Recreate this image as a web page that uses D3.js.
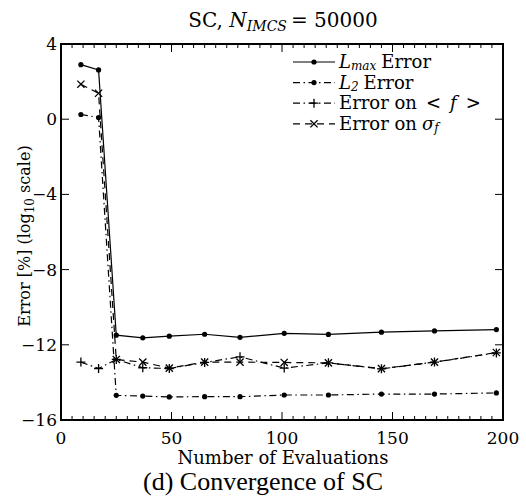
<!DOCTYPE html>
<html>
<head>
<meta charset="utf-8">
<script src="https://cdn.jsdelivr.net/npm/d3@7"></script>
<style>
  body { margin: 0; background: #fff; }
  svg text { font-family: "DejaVu Serif", serif; fill: #000; }
</style>
</head>
<body>
<svg id="chart" width="526" height="499"></svg>
<script>
// Number of model evaluations used by the sparse-grid collocation
const evaluations = [9, 17, 25, 37, 49, 65, 81, 101, 121, 145, 169, 197];

// log10 of the error (in %) for each measure
const lmaxError  = [2.90, 2.62, -11.49, -11.63, -11.54, -11.44, -11.60, -11.39, -11.45, -11.33, -11.26, -11.19];
const l2Error    = [0.25, 0.09, -14.69, -14.73, -14.77, -14.76, -14.76, -14.67, -14.67, -14.62, -14.62, -14.56];
const meanError  = [-12.92, -13.26, -12.78, -13.22, -13.26, -12.94, -12.64, -13.24, -12.96, -13.28, -12.92, -12.43];
const sigmaError = [1.86, 1.38, -12.78, -12.92, -13.24, -12.92, -12.92, -12.94, -12.96, -13.27, -12.92, -12.41];

const xTicks = [0, 50, 100, 150, 200];
const yTicks = [4, 0, -4, -8, -12, -16];

const series = [
  { name: "Lmax", values: lmaxError,  dash: null,            marker: "dot" },
  { name: "L2",   values: l2Error,    dash: "7,3.5,1.5,3.5", marker: "dot" },
  { name: "mean", values: meanError,  dash: "7,3.5,1.5,3.5", marker: "plus" },
  { name: "sigma",values: sigmaError, dash: "7,5",           marker: "cross" }
];

const svg = d3.select("#chart");
const plotLeft = 61, plotRight = 503, plotTop = 44, plotBottom = 420;

const x = d3.scaleLinear().domain([0, 200]).range([plotLeft, plotRight]);
const y = d3.scaleLinear().domain([-16, 4]).range([plotBottom, plotTop]);

// Tick marks point inwards on all four sides
const minorX = d3.range(0, 201, 5).filter(v => v % 50 !== 0);
const tickG = svg.append("g").attr("stroke", "#000").attr("stroke-width", 1);
minorX.forEach(v => {
  tickG.append("line").attr("x1", x(v)).attr("x2", x(v)).attr("y1", plotBottom).attr("y2", plotBottom - 4);
  tickG.append("line").attr("x1", x(v)).attr("x2", x(v)).attr("y1", plotTop).attr("y2", plotTop + 4);
});
xTicks.forEach(v => {
  tickG.append("line").attr("x1", x(v)).attr("x2", x(v)).attr("y1", plotBottom).attr("y2", plotBottom - 8);
  tickG.append("line").attr("x1", x(v)).attr("x2", x(v)).attr("y1", plotTop).attr("y2", plotTop + 8);
});
yTicks.forEach(v => {
  tickG.append("line").attr("x1", plotLeft).attr("x2", plotLeft + 8).attr("y1", y(v)).attr("y2", y(v));
  tickG.append("line").attr("x1", plotRight).attr("x2", plotRight - 8).attr("y1", y(v)).attr("y2", y(v));
});

// Tick labels
svg.append("g").selectAll("text").data(xTicks).join("text")
  .attr("x", d => x(d)).attr("y", 444)
  .attr("text-anchor", "middle").attr("font-size", 17)
  .text(d => d);
svg.append("g").selectAll("text").data(yTicks).join("text")
  .attr("x", plotLeft - 4).attr("y", d => y(d) + 6)
  .attr("text-anchor", "end").attr("font-size", 17)
  .text(d => d < 0 ? "\u2212" + Math.abs(d) : d);

// Series lines and markers
const line = d3.line().x((d, i) => x(evaluations[i])).y(d => y(d));
const clip = svg.append("clipPath").attr("id", "plotArea");
clip.append("rect").attr("x", plotLeft).attr("y", plotTop).attr("width", plotRight - plotLeft).attr("height", plotBottom - plotTop);

function drawMarker(g, type, cx, cy) {
  if (type === "dot") {
    g.append("circle").attr("cx", cx).attr("cy", cy).attr("r", 2.6).attr("fill", "#000");
  } else if (type === "plus") {
    g.append("path").attr("d", `M${cx - 4.5},${cy}H${cx + 4.5}M${cx},${cy - 4.5}V${cy + 4.5}`)
      .attr("stroke", "#000").attr("stroke-width", 1.3).attr("fill", "none");
  } else {
    g.append("path").attr("d", `M${cx - 3.6},${cy - 3.6}L${cx + 3.6},${cy + 3.6}M${cx - 3.6},${cy + 3.6}L${cx + 3.6},${cy - 3.6}`)
      .attr("stroke", "#000").attr("stroke-width", 1.3).attr("fill", "none");
  }
}

const plotG = svg.append("g").attr("clip-path", "url(#plotArea)");
series.forEach(s => {
  plotG.append("path").datum(s.values)
    .attr("d", line).attr("fill", "none").attr("stroke", "#000")
    .attr("stroke-width", 1.2)
    .attr("stroke-dasharray", s.dash);
  s.values.forEach((v, i) => drawMarker(plotG, s.marker, x(evaluations[i]), y(v)));
});

// Frame
svg.append("rect").attr("x", plotLeft).attr("y", plotTop).attr("width", plotRight - plotLeft).attr("height", plotBottom - plotTop)
  .attr("fill", "none").attr("stroke", "#000").attr("stroke-width", 2);

// Legend: each row is drawn as separate text pieces (main text and subscript)
const legendRows = [
  { s: series[0], parts: [["L", "italic"], ["max", "sub"], ["Error", "gap"]] },
  { s: series[1], parts: [["L", "italic"], ["2", "sub"], ["Error", "gap"]] },
  { s: series[2], parts: [["Error on", ""], ["<", "rel"], ["f", "italicrel"], [">", "rel"]] },
  { s: series[3], parts: [["Error on", ""], ["\u03C3", "italicgap"], ["f", "sub"]] }
];
const legend = svg.append("g");
const legendFont = 18;
legendRows.forEach((row, i) => {
  const ly = 62 + i * 20.6;
  legend.append("line").attr("x1", 293).attr("x2", 335).attr("y1", ly).attr("y2", ly)
    .attr("stroke", "#000").attr("stroke-width", 1.2).attr("stroke-dasharray", row.s.dash);
  drawMarker(legend, row.s.marker, 314, ly);
  let cursor = 339;
  row.parts.forEach(([str, kind]) => {
    if (kind === "gap" || kind === "italicgap") cursor += 5;
    if (kind === "rel" || kind === "italicrel") cursor += 9;
    const t = legend.append("text").attr("x", cursor).text(str);
    if (kind === "sub") {
      t.attr("y", ly + 8).attr("font-size", 12).attr("font-style", "italic");
    } else {
      t.attr("y", ly + 6).attr("font-size", legendFont);
      if (kind.startsWith("italic")) t.attr("font-style", "italic");
    }
    cursor += t.node().getComputedTextLength();
  });
});

// Title
const title = svg.append("text").attr("x", 283).attr("y", 27).attr("text-anchor", "middle").attr("font-size", 20);
title.append("tspan").text("SC, ");
title.append("tspan").attr("font-style", "italic").text("N");
title.append("tspan").attr("font-style", "italic").attr("font-size", 14).attr("dy", 4).text("IMCS");
title.append("tspan").attr("dy", -4).attr("dx", 4).text("= ");
title.append("tspan").text("50000");

// Axis titles
svg.append("text").attr("x", 283).attr("y", 464).attr("text-anchor", "middle").attr("font-size", 18)
  .text("Number of Evaluations");
const yl = svg.append("text").attr("transform", "translate(30,236) rotate(-90)")
  .attr("text-anchor", "middle").attr("font-size", 16);
yl.append("tspan").text("Error [%] (log");
yl.append("tspan").attr("font-size", 12).attr("dy", 4).text("10");
yl.append("tspan").attr("dy", -4).text(" scale)");

// Caption
svg.append("text").attr("x", 263).attr("y", 490).attr("text-anchor", "middle")
  .attr("font-size", 26).style("font-family", "'Liberation Serif', serif")
  .text("(d) Convergence of SC");
</script>
</body>
</html>
